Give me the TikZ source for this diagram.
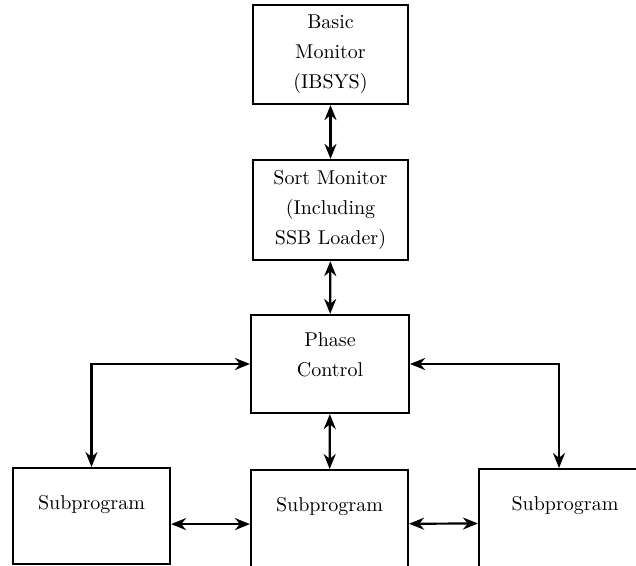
\documentclass[tikz,border=0pt]{standalone}
\usetikzlibrary{arrows.meta}

\begin{document}
\begin{tikzpicture}[x=0.5pt,y=-0.5pt,line width=1.1pt,>={Stealth[length=7.5pt,width=6pt]},
  box/.style={rectangle,draw,align=center,font=\fontsize{10}{15}\selectfont},
  subbox/.style={rectangle,draw,inner xsep=0pt,inner ysep=0pt,text height=20.5pt,text depth=33.5pt}]
\useasboundingbox (0,0) rectangle (636,566);
\clip (0,0) rectangle (636,566);
\node [box,minimum width=77.5pt,minimum height=49.5pt] (basic) at (330.5,54.5) {Basic\\Monitor\\(IBSYS)};
\node [box,minimum width=77.5pt,minimum height=50pt] (sortmon) at (330.5,210) {Sort Monitor\\(Including\\SSB Loader)};
\node [box,minimum width=79pt,minimum height=49pt] (phase) at (330,364) {Phase\\Control\\[-6pt]};
\node [subbox,minimum width=78.5pt,text depth=27.5pt,anchor=north] (sub1) at (91.5,467) {Subprogram};
\node [subbox,minimum width=78.5pt,anchor=north] (sub2) at (329.5,469) {Subprogram};
\node [subbox,minimum width=86pt,anchor=north] (sub3) at (565,468) {Subprogram};
\draw[<->] (basic) -- (sortmon);
\draw[<->] (sortmon) -- (phase);
\draw[<->] (phase) -- (sub2);
\draw[<->] (sub1.north) |- (phase.west);
\draw[<->] (phase.east) -| ([xshift=-3pt]sub3.north);
\draw[<->] (sub1.east |- sub2.west) -- (sub2.west);
\draw[<->] (sub2) -- (sub3);
\end{tikzpicture}
\end{document}
